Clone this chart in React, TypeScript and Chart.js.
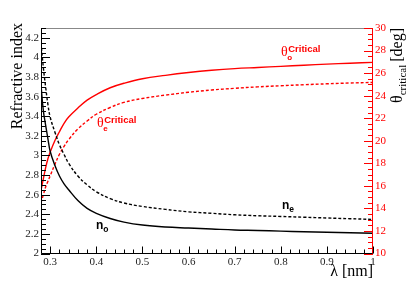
import { useEffect, useRef } from 'react';
import { Chart, registerables } from 'chart.js';

Chart.register(...registerables);

// wavelength in nm (axis label as in reference)
const wavelength = [0.28, 0.285, 0.29, 0.295, 0.3, 0.31, 0.32, 0.33, 0.34, 0.36, 0.38, 0.4, 0.43, 0.46, 0.5, 0.55, 0.6, 0.65, 0.7, 0.75, 0.8, 0.85, 0.9, 0.95, 1.0];
// ordinary refractive index n_o (solid black)
const nOrdinary = [3.72, 3.46, 3.31, 3.17, 3.04, 2.9, 2.79, 2.71, 2.65, 2.54, 2.46, 2.41, 2.357, 2.32, 2.29, 2.27, 2.26, 2.25, 2.24, 2.235, 2.228, 2.222, 2.217, 2.212, 2.207];
// extraordinary refractive index n_e (dashed black)
const nExtraordinary = [4.15, 3.9, 3.7, 3.52, 3.39, 3.24, 3.11, 3.01, 2.92, 2.79, 2.7, 2.63, 2.56, 2.515, 2.48, 2.45, 2.425, 2.41, 2.395, 2.385, 2.378, 2.37, 2.362, 2.355, 2.347];
// critical angle for ordinary ray (solid red), degrees
const thetaOrdinary = [15.6, 16.6, 17.6, 18.4, 19.0, 20.0, 20.8, 21.55, 22.1, 22.9, 23.6, 24.1, 24.7, 25.1, 25.5, 25.8, 26.05, 26.25, 26.4, 26.5, 26.6, 26.7, 26.8, 26.88, 26.95];
// critical angle for extraordinary ray (dotted red), degrees
const thetaExtraordinary = [14.5, 15.2, 15.9, 16.4, 16.9, 17.9, 18.8, 19.5, 20.1, 21.05, 21.75, 22.35, 22.95, 23.4, 23.75, 24.05, 24.3, 24.5, 24.65, 24.78, 24.88, 24.97, 25.05, 25.12, 25.17];

const xTickValues = [0.3, 0.4, 0.5, 0.6, 0.7, 0.8, 0.9, 1];
const leftTickValues = [2, 2.2, 2.4, 2.6, 2.8, 3, 3.2, 3.4, 3.6, 3.8, 4, 4.2];
const rightTickValues = [10, 12, 14, 16, 18, 20, 22, 24, 26, 28, 30];

const X_MIN = 0.28, X_MAX = 1.0;
const YL_MIN = 2, YL_MAX = 4.3;
const YR_MIN = 10, YR_MAX = 30;

const RED = '#ff0000';
const SERIF = '"Liberation Serif", "Times New Roman", serif';
const SANS = '"Liberation Sans", Arial, sans-serif';

const pts = (ys: number[]) => wavelength.map((x, i) => ({ x, y: ys[i] }));

function drawTheta(ctx: CanvasRenderingContext2D, x: number, base: number, sub: string) {
  ctx.fillStyle = RED;
  ctx.textAlign = 'left';
  ctx.textBaseline = 'alphabetic';
  ctx.font = `14px ${SERIF}`;
  ctx.fillText('θ', x, base);
  const w = ctx.measureText('θ').width;
  ctx.font = `bold 8px ${SANS}`;
  ctx.fillText(sub, x + w - 0.5, base + 4);
  ctx.font = `bold 9.5px ${SANS}`;
  ctx.fillText('Critical', x + w + 0.5, base - 4.5);
}

function drawN(ctx: CanvasRenderingContext2D, x: number, base: number, sub: string) {
  ctx.fillStyle = '#000';
  ctx.textAlign = 'left';
  ctx.textBaseline = 'alphabetic';
  ctx.font = `bold 12px ${SANS}`;
  ctx.fillText('n', x, base);
  const w = ctx.measureText('n').width;
  ctx.font = `bold 8.5px ${SANS}`;
  ctx.fillText(sub, x + w, base + 3);
}

const framePlugin = {
  id: 'rootFrame',
  afterDatasetsDraw(chart: any) {
    const ctx: CanvasRenderingContext2D = chart.ctx;
    const { left, right, top, bottom } = chart.chartArea;
    const xs = chart.scales.x;
    const yl = chart.scales.y;
    const yr = chart.scales.y2;
    ctx.save();

    // frame lines
    ctx.lineWidth = 1;
    ctx.strokeStyle = '#888';
    ctx.beginPath();
    ctx.moveTo(left, top + 0.5);
    ctx.lineTo(right, top + 0.5);
    ctx.stroke();
    ctx.strokeStyle = '#000';
    ctx.beginPath();
    ctx.moveTo(left + 0.5, top);
    ctx.lineTo(left + 0.5, bottom);
    ctx.lineTo(right, bottom);
    ctx.stroke();
    ctx.strokeStyle = RED;
    ctx.beginPath();
    ctx.moveTo(right - 0.5, top);
    ctx.lineTo(right - 0.5, bottom);
    ctx.stroke();

    // x ticks
    ctx.strokeStyle = '#000';
    ctx.beginPath();
    for (let i = 0; i <= 36; i++) {
      const v = X_MIN + i * 0.02;
      const px = Math.round(xs.getPixelForValue(v)) + 0.5;
      const len = (i - 1) % 5 === 0 ? 7 : 4;
      ctx.moveTo(px, bottom);
      ctx.lineTo(px, bottom - len);
    }
    ctx.stroke();
    // left ticks
    ctx.beginPath();
    for (let i = 0; i <= 46; i++) {
      const v = YL_MIN + i * 0.05;
      const py = Math.round(yl.getPixelForValue(v)) + 0.5;
      const len = i % 4 === 0 ? 9 : 5;
      ctx.moveTo(left, py);
      ctx.lineTo(left + len, py);
    }
    ctx.stroke();
    // right ticks
    ctx.strokeStyle = RED;
    ctx.beginPath();
    for (let i = 0; i <= 40; i++) {
      const v = YR_MIN + i * 0.5;
      const py = Math.round(yr.getPixelForValue(v)) + 0.5;
      const len = i % 4 === 0 ? 9 : 5;
      ctx.moveTo(right, py);
      ctx.lineTo(right - len, py);
    }
    ctx.stroke();

    // tick labels
    ctx.font = `11px ${SERIF}`;
    ctx.fillStyle = '#222';
    ctx.textAlign = 'center';
    ctx.textBaseline = 'top';
    xTickValues.forEach((v) => ctx.fillText(String(v), xs.getPixelForValue(v), bottom + 3.5));
    ctx.textAlign = 'right';
    ctx.textBaseline = 'middle';
    leftTickValues.forEach((v) => ctx.fillText(String(v), left - 2, yl.getPixelForValue(v)));
    ctx.fillStyle = RED;
    ctx.textAlign = 'left';
    rightTickValues.forEach((v) => ctx.fillText(String(v), right + 2, yr.getPixelForValue(v)));

    // axis titles
    ctx.fillStyle = '#000';
    ctx.font = `16px ${SERIF}`;
    ctx.textAlign = 'right';
    ctx.textBaseline = 'alphabetic';
    ctx.fillText('λ [nm]', right, 276);

    ctx.save();
    ctx.translate(22, 23);
    ctx.rotate(-Math.PI / 2);
    ctx.textAlign = 'right';
    ctx.fillText('Refractive index', 0, 0);
    ctx.restore();

    ctx.save();
    ctx.translate(402, 103);
    ctx.rotate(-Math.PI / 2);
    ctx.textAlign = 'left';
    ctx.font = `16px ${SERIF}`;
    ctx.fillText('θ', 0, 0);
    let w = ctx.measureText('θ').width;
    ctx.font = `11px ${SERIF}`;
    ctx.fillText('critical', w, 4);
    w += ctx.measureText('critical').width;
    ctx.font = `16px ${SERIF}`;
    ctx.fillText('[deg]', w + 3, 0);
    ctx.restore();

    // curve annotations
    drawTheta(ctx, 281, 56, 'o');
    drawTheta(ctx, 97, 127, 'e');
    drawN(ctx, 282, 208.5, 'e');
    drawN(ctx, 96, 228.5, 'o');

    ctx.restore();
  },
};

export default function App() {
  const ref = useRef<HTMLCanvasElement | null>(null);
  useEffect(() => {
    document.body.style.margin = '0';
    const canvas = ref.current!;
    const common = { pointRadius: 0, borderWidth: 1.4, tension: 0.4, fill: false };
    const chart = new Chart(canvas, {
      type: 'line',
      data: {
        datasets: [
          { ...common, label: 'n_o', data: pts(nOrdinary), borderColor: '#000', yAxisID: 'y' },
          { ...common, label: 'n_e', data: pts(nExtraordinary), borderColor: '#000', borderDash: [3, 2], yAxisID: 'y' },
          { ...common, label: 'theta_o', data: pts(thetaOrdinary), borderColor: RED, yAxisID: 'y2' },
          { ...common, label: 'theta_e', data: pts(thetaExtraordinary), borderColor: RED, borderDash: [3, 2], yAxisID: 'y2' },
        ],
      },
      options: {
        responsive: false,
        animation: false,
        events: [],
        layout: { padding: { left: 41, right: 42, top: 28, bottom: 28.5 } },
        plugins: { legend: { display: false }, tooltip: { enabled: false } },
        scales: {
          x: { type: 'linear', min: X_MIN, max: X_MAX, display: false },
          y: { type: 'linear', min: YL_MIN, max: YL_MAX, display: false, position: 'left' },
          y2: { type: 'linear', min: YR_MIN, max: YR_MAX, display: false, position: 'right' },
        },
      },
      plugins: [framePlugin],
    });
    return () => chart.destroy();
  }, []);
  return <canvas ref={ref} width={415} height={282} style={{ display: 'block' }} />;
}
